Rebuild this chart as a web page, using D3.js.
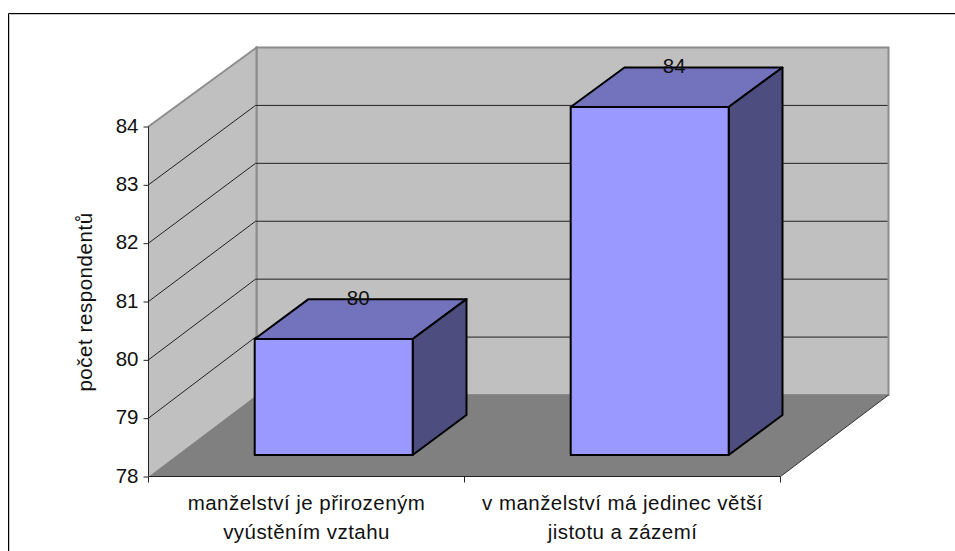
<!DOCTYPE html>
<html><head><meta charset="utf-8">
<script src="https://cdnjs.cloudflare.com/ajax/libs/d3/7.8.5/d3.min.js"></script>
<style>
html,body{margin:0;padding:0;background:#fff;overflow:hidden}
svg{display:block}
text{font-family:"Liberation Sans",Arial,sans-serif;fill:#111}
</style></head><body>
<script>
const categories = [["manželství je přirozeným","vyústěním vztahu"],["v manželství má jedinec větší","jistotu a zázemí"]];
const values = [80, 84];
const yTicks = [78,79,80,81,82,83,84];
const yTitle = "počet respondentů";
const W=955,H=551, fontSize=20.5;
const svg=d3.select("body").append("svg").attr("width",W).attr("height",H);

// chart frame: only top and left edges are visible
svg.append("path").attr("d","M9.5,551V14.5H955").attr("fill","none").attr("stroke","#c8c8c8");
svg.append("path").attr("d","M8.5,551V13.5H955").attr("fill","none").attr("stroke","#000");

const x=d3.scaleBand().domain(d3.range(values.length)).range([148.5,780.5]).paddingInner(0.5).paddingOuter(0.25);
const yFront=d3.scaleLinear().domain([78,84]).range([476.5,126.5]);
const yBack=d3.scaleLinear().domain([78,84]).range([395,47.5]);
const yBarFront=d3.scaleLinear().domain([78,84]).range([455,107]);
const yBarBack=d3.scaleLinear().domain([78,84]).range([415,67.5]);
const depth=108;               // horizontal shift front -> back wall
const bd0=depth*0.25+0.2, bd1=depth*0.75; // bar front/back planes
const [y0,y1]=yFront.domain();
const poly=p=>"M"+p.map(d=>d.join(",")).join("L")+"Z";
const xL=x.range()[0], xR=x.range()[1];

// back wall
svg.append("path").attr("d",poly([[xL+depth,yBack(y1)],[xR+depth,yBack(y1)],[xR+depth,yBack(y0)],[xL+depth,yBack(y0)]]))
  .attr("fill","#c0c0c0").attr("stroke","#8c8c8c").attr("stroke-width",2);
// left wall
svg.append("path").attr("d",poly([[xL,yFront(y1)],[xL+depth,yBack(y1)],[xL+depth,yBack(y0)],[xL,yFront(y0)]]))
  .attr("fill","#c0c0c0").attr("stroke","none");
svg.append("path").attr("d",`M${xL},${yFront(y1)}L${xL+depth},${yBack(y1)}V${yBack(y0)}`)
  .attr("fill","none").attr("stroke","#8c8c8c").attr("stroke-width",2);
// floor
svg.append("path").attr("d",poly([[xL,yFront(y0)],[xR,yFront(y0)],[xR+depth,yBack(y0)],[xL+depth,yBack(y0)]]))
  .attr("fill","#808080");
svg.append("path").attr("d",`M${xR},${yFront(y0)}L${xR+depth},${yBack(y0)}`).attr("stroke","#333").attr("fill","none");

// gridlines
const grid=yTicks.filter(t=>t>y0&&t<y1);
svg.append("g").selectAll("path").data(grid).join("path")
  .attr("d",t=>`M${xL},${yFront(t)}L${xL+depth-1},${yBack(t)}H${xR+depth-1}`)
  .attr("fill","none").attr("stroke","#222").attr("stroke-width",1);

// axes
const gy=svg.append("g").attr("transform",`translate(${xL},0)`)
  .call(d3.axisLeft(yFront).tickValues(yTicks).tickFormat(d3.format("d")).tickSize(5).tickPadding(5));
gy.selectAll("text").attr("font-size",fontSize).attr("font-family",null).attr("fill",null).attr("y",-1);
gy.selectAll("line").attr("stroke","#222");
gy.select(".domain").attr("stroke","#222").attr("d",`M0,${yFront(y1)}V${yFront(y0)}`);

const xTickVals=[xL,(xL+xR)/2,xR];
svg.append("path").attr("d",`M${xL},${yFront(y0)}H${xR}`).attr("stroke","#222").attr("fill","none");
svg.append("g").selectAll("line").data(xTickVals).join("line")
  .attr("x1",d=>d).attr("x2",d=>d).attr("y1",yFront(y0)).attr("y2",yFront(y0)+6).attr("stroke","#222");

// bars
const bars=svg.append("g").selectAll("g").data(values).join("g");
const bl=(d,i)=>x(i)+bd0, br=(d,i)=>x(i)+x.bandwidth()+bd0, dp=bd1-bd0;
bars.append("path").attr("d",(d,i)=>poly([[bl(d,i),yBarFront(d)],[br(d,i),yBarFront(d)],[br(d,i)+dp,yBarBack(d)],[bl(d,i)+dp,yBarBack(d)]]))
  .attr("fill","#7373bd").attr("stroke","#000").attr("stroke-width",2).attr("stroke-linejoin","round");
bars.append("path").attr("d",(d,i)=>poly([[br(d,i),yBarFront(d)],[br(d,i)+dp,yBarBack(d)],[br(d,i)+dp,yBarBack(y0)],[br(d,i),yBarFront(y0)]]))
  .attr("fill","#4d4d80").attr("stroke","#000").attr("stroke-width",2).attr("stroke-linejoin","round");
bars.append("path").attr("d",(d,i)=>poly([[bl(d,i),yBarFront(d)],[br(d,i),yBarFront(d)],[br(d,i),yBarFront(y0)],[bl(d,i),yBarFront(y0)]]))
  .attr("fill","#9999ff").attr("stroke","#000").attr("stroke-width",2).attr("stroke-linejoin","round");
bars.append("text").attr("x",(d,i)=>(bl(d,i)+br(d,i))/2+24.5).attr("y",d=>yBarBack(d)+5.7)
  .attr("text-anchor","middle").attr("font-size",fontSize).text(d=>d);

// category labels
svg.append("g").selectAll("text").data(categories).join("text")
  .attr("text-anchor","middle").attr("font-size",fontSize).attr("letter-spacing",0.45)
  .each(function(c,i){
    const cx=x(i)+x.bandwidth()/2;
    d3.select(this).selectAll("tspan").data(c).join("tspan")
      .attr("x",cx).attr("y",(d,j)=>509.5+j*29.5).text(d=>d);
  });

// axis title
svg.append("text").attr("transform","translate(91.5,302) rotate(-90)")
  .attr("text-anchor","middle").attr("font-size",fontSize).attr("letter-spacing",0.55).text(yTitle);
</script>
</body></html>
